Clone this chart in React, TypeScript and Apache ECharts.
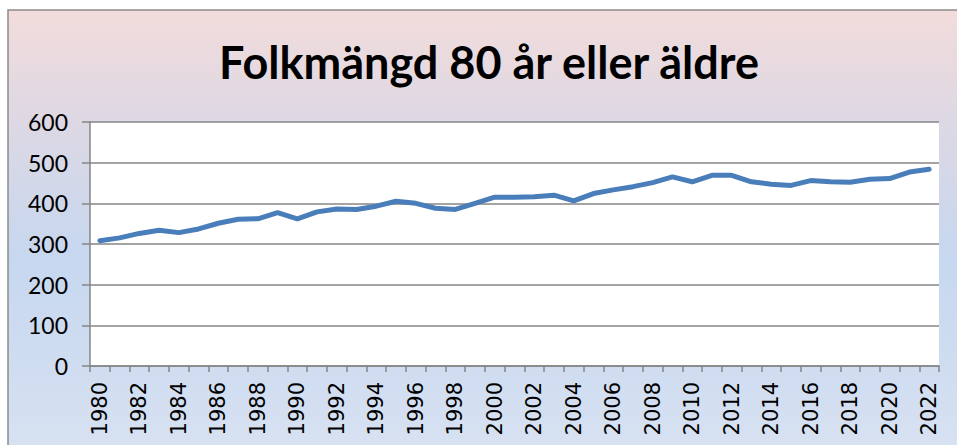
import React, { useEffect, useRef } from "react";
import * as echarts from "echarts";

const years: string[] = [];
for (let y = 1980; y <= 2022; y++) years.push(String(y));

const population: number[] = [
  308, 315, 326, 334, 328, 337, 351, 361, 362, 377,
  362, 379, 386, 385, 393, 405, 400, 388, 385, 400,
  415, 415, 416, 420, 406, 424, 433, 441, 451, 465,
  453, 469, 469, 453, 447, 444, 456, 453, 452, 459,
  461, 477, 484,
];

const yTicks = [0, 100, 200, 300, 400, 500, 600];
const titleText = "Folkmängd 80 år eller äldre";

export default function App() {
  const ref = useRef<HTMLDivElement>(null);
  useEffect(() => {
    if (!ref.current) return;
    const chart = echarts.init(ref.current, null, { renderer: "svg" });
    chart.setOption({
      animation: false,
      backgroundColor: "#ffffff",
      graphic: [
        {
          type: "rect",
          z: -10,
          shape: { x: 8, y: 10, width: 960, height: 450 },
          style: {
            fill: new echarts.graphic.LinearGradient(0, 0, 0, 1, [
              { offset: 0, color: "#F2DCDB" },
              { offset: 0.25, color: "#DDD8E4" },
              { offset: 0.55, color: "#C6D7EF" },
              { offset: 1, color: "#D8E2F2" },
            ]),
            stroke: "#8C8C8C",
            lineWidth: 1.5,
          },
        },
        {
          type: "text",
          x: 489,
          y: 62,
          style: {
            text: titleText,
            align: "center",
            verticalAlign: "middle",
            font: "bold 45px Lato",
            fill: "#000000",
          },
        },
      ],
      grid: {
        left: 90,
        right: 18,
        top: 122,
        bottom: 79,
        show: true,
        backgroundColor: "#ffffff",
        borderWidth: 0,
      },
      xAxis: {
        type: "category",
        data: years,
        boundaryGap: true,
        axisLine: { show: true, lineStyle: { color: "#868686", width: 1.5 } },
        axisTick: { show: true, interval: 0, length: 6, lineStyle: { color: "#868686", width: 1.5 } },
        axisLabel: {
          interval: 1,
          rotate: 90,
          fontFamily: "DejaVu Sans",
          fontSize: 21,
          color: "#000000",
          margin: 16,
        },
        splitLine: { show: false },
      },
      yAxis: {
        type: "value",
        min: yTicks[0],
        max: yTicks[yTicks.length - 1],
        interval: 100,
        axisLine: { show: true, lineStyle: { color: "#868686", width: 1.5 } },
        axisTick: { show: true, length: 8, lineStyle: { color: "#868686", width: 1.5 } },
        axisLabel: {
          fontFamily: "Lato",
          fontSize: 23,
          color: "#000000",
          margin: 22,
        },
        splitLine: { show: true, lineStyle: { color: "#868686", width: 1.5 } },
      },
      series: [
        {
          type: "line",
          data: population,
          showSymbol: false,
          symbol: "none",
          lineStyle: { color: "#4A7EBB", width: 5, cap: "round", join: "round" },
        },
      ],
    });
    return () => chart.dispose();
  }, []);
  return (
    <div
      ref={ref}
      style={{ position: "fixed", left: 0, top: 0, width: 957, height: 445 }}
    />
  );
}
